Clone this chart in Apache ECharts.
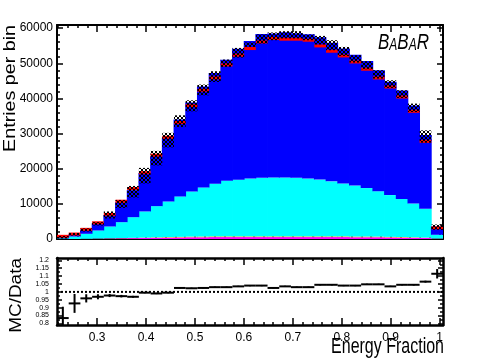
<!DOCTYPE html>
<html><head><meta charset="utf-8">
<script src="https://cdn.jsdelivr.net/npm/echarts@6/dist/echarts.min.js"></script>
<style>html,body{margin:0;padding:0;background:#fff}#c{width:485px;height:360px}</style>
</head><body><div id="c"></div>
<script>
// ---- binning ----
const xMin = 0.218, xMax = 1.007, nBins = 33;
// ---- stacked MC components (entries per bin) ----
const magenta = [0,0,50,100,150,200,250,300,350,400,450,500,500,550,550,550,550,550,550,550,550,550,550,550,550,500,500,500,450,400,350,300,100];
const orange  = [0,0,0,30,50,60,80,100,120,140,160,180,200,200,200,200,200,200,200,200,200,200,200,200,200,200,200,180,160,150,130,100,30];
const cyan    = [200,700,1430,2290,3360,4530,5880,7440,8880,10150,11500,12860,13980,14980,15840,16120,16450,16650,16750,16750,16650,16450,16150,15650,15050,14500,13800,12920,11890,10850,9620,8200,1070];
const blue    = [434,612,1152,2047,3269,5670,7695,10946,14271,18115,21869,25293,28698,31475,34426,37261,39168,40934,40976,41350,41166,41067,40523,39445,38384,37206,36129,34430,32274,30828,27875,20996,2357];
// ---- data (red) and hatched uncertainty band ----
const dataVals  = [760,1415,2745,4610,6990,10750,14350,18880,23860,28950,33150,37960,42320,45830,49530,52300,54200,56090,57050,56860,56860,56570,54950,53440,52100,50390,48310,45830,43260,40410,36340,27790,3190];
const hatchLow  = [140,1000,2140,3850,5840,8835,11830,15820,20950,26080,31860,36340,40900,44690,48960,51640,54660,55630,56570,57060,57060,56570,55350,53720,52100,50220,48310,45660,42980,40130,36140,27420,2620];
const hatchHigh = [855,1710,3000,4790,7840,11115,15100,20235,25080,30210,35200,39470,43950,47740,51070,54380,55920,58200,58770,59140,59140,58200,57800,56570,54660,52300,50590,48020,45170,42320,38530,30920,4130];
// ---- ratio panel ----
const ratio    = [0.834,0.927,0.959,0.969,0.977,0.973,0.969,0.995,0.990,0.995,1.025,1.023,1.025,1.030,1.030,1.035,1.040,1.040,1.025,1.035,1.030,1.030,1.045,1.045,1.040,1.040,1.048,1.048,1.035,1.045,1.045,1.065,1.115];
const ratioErr = [0.072,0.060,0.026,0.016,0.010,0.008,0.006,0.004,0.004,0.004,0.004,0.004,0.004,0.004,0.004,0.004,0.004,0.004,0.004,0.004,0.004,0.004,0.004,0.004,0.004,0.004,0.004,0.004,0.004,0.004,0.005,0.006,0.030];
// ---- tick labels ----
const xTickLabels = [0.3,0.4,0.5,0.6,0.7,0.8,0.9,1];
const yTickLabels = [0,10000,20000,30000,40000,50000,60000];
const ratioTickLabels = [0.8,0.85,0.9,0.95,1,1.05,1.1,1.15,1.2];

const FONT = 'Liberation Sans, Arial, Helvetica, sans-serif';
const bw = (xMax - xMin) / nBins;
const binLo = i => xMin + i * bw;
const binHi = i => xMin + (i + 1) * bw;

const xMinor = [];
for (let k = 11; k <= 50; k++) { const v = +(k * 0.02).toFixed(2); if (Math.abs(v*10 - Math.round(v*10)) > 1e-6) xMinor.push(v); }
const yMinor = [];
for (let v = 2000; v <= 60000; v += 2000) if (v % 10000) yMinor.push(v);
const rMinor = [];
for (let k = 0; k < 8; k++) rMinor.push(+(0.825 + k * 0.05).toFixed(3));

// crosshatch pattern
const pc = document.createElement('canvas'); pc.width = 4; pc.height = 4;
const pg = pc.getContext('2d'); pg.fillStyle = '#000';
[[0,0],[1,1],[2,2],[3,3],[3,0],[2,1],[1,2],[0,3]].forEach(p => pg.fillRect(p[0], p[1], 1, 1));
const hatchFill = { image: pc, repeat: 'repeat' };

function rectSeries(name, fill, items, ax, pad) {
  return {
    type: 'custom', name, xAxisIndex: ax, yAxisIndex: ax, data: items, clip: true, silent: true, animation: false,
    encode: { x: [0, 1], y: [2, 3] },
    renderItem(params, api) {
      const p0 = api.coord([api.value(0), api.value(2)]);
      const p1 = api.coord([api.value(1), api.value(3)]);
      return { type: 'rect', shape: { x: p0[0] - pad, y: p1[1], width: p1[0] - p0[0] + 2 * pad, height: p0[1] - p1[1] }, style: { fill } };
    }
  };
}

const comps = [['magenta', '#ff00ff', magenta], ['orange', '#ffc000', orange], ['cyan', '#00ffff', cyan], ['blue', '#0000ff', blue]];
const cum = new Array(nBins).fill(0);
const series = [];
comps.forEach(([name, color, vals]) => {
  const items = vals.map((v, i) => { const lo = cum[i]; cum[i] += v; return [binLo(i), binHi(i), lo, cum[i]]; });
  series.push(rectSeries(name, color, items, 0, 0.4));
});
// red data bands
series.push({
  type: 'custom', name: 'data', xAxisIndex: 0, yAxisIndex: 0, clip: true, silent: true, animation: false,
  data: dataVals.map((v, i) => [binLo(i), binHi(i), v]), encode: { x: [0, 1], y: 2 },
  renderItem(params, api) {
    const p0 = api.coord([api.value(0), api.value(2)]);
    const p1 = api.coord([api.value(1), api.value(2)]);
    return { type: 'rect', shape: { x: p0[0], y: p0[1] - 1.5, width: p1[0] - p0[0], height: 3 }, style: { fill: '#ff0000' } };
  }
});
// hatched band
series.push(rectSeries('band', hatchFill, hatchLow.map((v, i) => [binLo(i), binHi(i), v, hatchHigh[i]]), 0, 0));
// ratio reference line
series.push({ type: 'line', xAxisIndex: 4, yAxisIndex: 4, data: [[xMin, 1], [xMax, 1]], symbol: 'none', silent: true, animation: false,
  lineStyle: { color: '#000', width: 2, type: [2, 2] } });
// ratio points
series.push({
  type: 'custom', name: 'ratio', xAxisIndex: 4, yAxisIndex: 4, clip: true, silent: true, animation: false,
  data: ratio.map((r, i) => [binLo(i), binHi(i), r, ratioErr[i]]), encode: { x: [0, 1], y: 2 },
  renderItem(params, api) {
    const x0 = api.value(0), x1 = api.value(1), r = api.value(2), e = api.value(3), xc = (x0 + x1) / 2;
    const a = api.coord([x0, r]), b = api.coord([x1, r]), t = api.coord([xc, r + e]), d = api.coord([xc, r - e]);
    const st = { stroke: '#000', lineWidth: 2 };
    return { type: 'group', children: [
      { type: 'line', shape: { x1: a[0], y1: a[1], x2: b[0], y2: b[1] }, style: st },
      { type: 'line', shape: { x1: t[0], y1: t[1], x2: d[0], y2: d[1] }, style: st }
    ] };
  }
});

function xAx(grid, pos, ticks, len, major, labels, lw) {
  return { type: 'value', gridIndex: grid, position: pos, min: xMin, max: xMax, splitLine: { show: false },
    axisLine: { show: major, onZero: false, lineStyle: { color: '#000', width: lw } },
    axisTick: { show: true, inside: true, length: len, customValues: ticks, lineStyle: { color: '#000', width: 1.5 } },
    axisLabel: labels ? { show: true, customValues: ticks, margin: 7, color: '#000', fontSize: 12, fontFamily: FONT, formatter: v => String(v) } : { show: false } };
}
function yAx(grid, pos, min, max, ticks, len, major, labels, lw) {
  return { type: 'value', gridIndex: grid, position: pos, min, max, splitLine: { show: false },
    axisLine: { show: major, onZero: false, lineStyle: { color: '#000', width: lw } },
    axisTick: { show: true, inside: true, length: len, customValues: ticks, lineStyle: { color: '#000', width: 1.5 } },
    axisLabel: labels ? Object.assign({ show: true, customValues: ticks, color: '#000', fontFamily: FONT, formatter: v => String(v) }, labels) : { show: false } };
}
const yMax0 = 60900, rMin = 0.79, rMax = 1.215;
const option = {
  backgroundColor: '#fff',
  animation: false,
  grid: [
    { left: 57, top: 25, width: 386, height: 214 },
    { left: 57, top: 258, width: 386, height: 67 }
  ],
  xAxis: [
    xAx(0, 'bottom', xTickLabels, 7, true, false, 2),
    xAx(0, 'bottom', xMinor, 3, false, false, 2),
    xAx(0, 'top', xTickLabels, 7, true, false, 2),
    xAx(0, 'top', xMinor, 3, false, false, 2),
    xAx(1, 'bottom', xTickLabels, 7, true, true, 2.5),
    xAx(1, 'bottom', xMinor, 3, false, false, 2.5),
    xAx(1, 'top', xTickLabels, 7, true, false, 2.5),
    xAx(1, 'top', xMinor, 3, false, false, 2.5)
  ],
  yAxis: [
    yAx(0, 'left', 0, yMax0, yTickLabels, 6, true, { fontSize: 12, margin: 4 }, 2),
    yAx(0, 'left', 0, yMax0, yMinor, 3, false, null, 2),
    yAx(0, 'right', 0, yMax0, yTickLabels, 6, true, null, 2),
    yAx(0, 'right', 0, yMax0, yMinor, 3, false, null, 2),
    yAx(1, 'left', rMin, rMax, ratioTickLabels, 5, true, { fontSize: 7, margin: 8, lineHeight: 7 }, 2.5),
    yAx(1, 'left', rMin, rMax, rMinor, 3, false, null, 2.5),
    yAx(1, 'right', rMin, rMax, ratioTickLabels, 5, true, null, 2.5),
    yAx(1, 'right', rMin, rMax, rMinor, 3, false, null, 2.5)
  ],
  graphic: [
    { type: 'text', x: 3, y: 25, rotation: Math.PI / 2, scaleX: 1.23, silent: true,
      style: { text: 'Entries per bin', font: '16px ' + FONT, fill: '#000', textAlign: 'right', textVerticalAlign: 'top' } },
    { type: 'text', x: 8, y: 258, rotation: Math.PI / 2, scaleX: 1.15, silent: true,
      style: { text: 'MC/Data', font: '16.5px ' + FONT, fill: '#000', textAlign: 'right', textVerticalAlign: 'top' } },
    { type: 'text', x: 444, y: 358, scaleY: 1.35, silent: true,
      style: { text: 'Energy Fraction', font: '16px ' + FONT, fill: '#000', textAlign: 'right', textVerticalAlign: 'bottom' } },
    { type: 'text', x: 378, y: 54, scaleY: 1.35, silent: true,
      style: { text: '{b|B}{s|A}{b|B}{s|A}{b|R}', fill: '#000', textAlign: 'left', textVerticalAlign: 'bottom',
        rich: { b: { fontSize: 17, fontStyle: 'italic', fontFamily: FONT, verticalAlign: 'bottom' },
                s: { fontSize: 12, fontStyle: 'italic', fontFamily: FONT, verticalAlign: 'bottom' } } } }
  ],
  series
};
const chart = echarts.init(document.getElementById('c'), null, { renderer: 'canvas', width: 485, height: 360 });
chart.setOption(option);
</script></body></html>
